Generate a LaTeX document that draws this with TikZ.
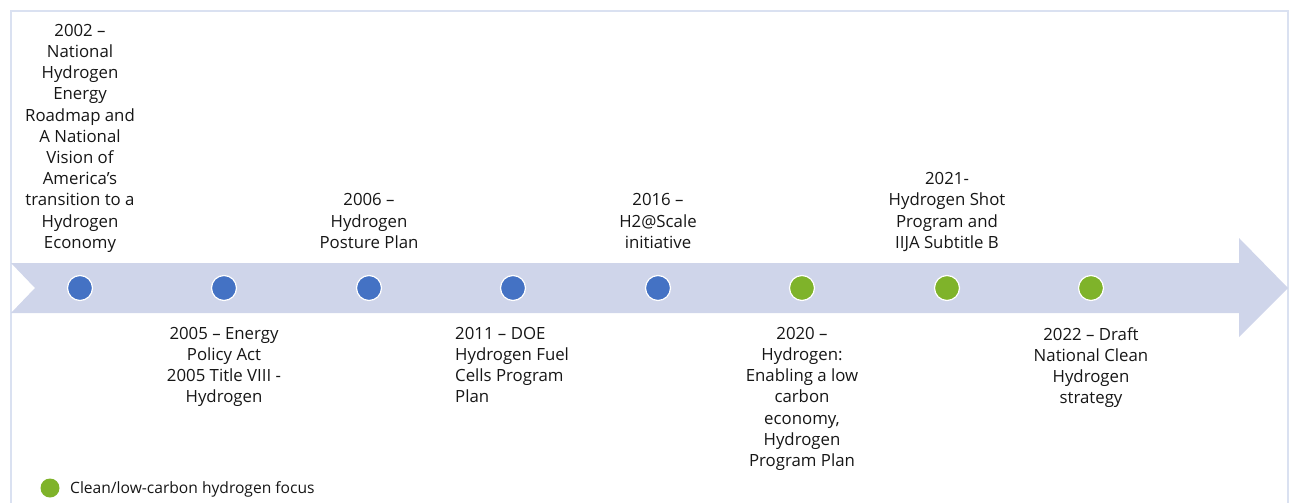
\documentclass[tikz,border=0pt]{standalone}
\usepackage{fontspec}
\setmainfont{Open Sans}

\definecolor{bandfill}{HTML}{CFD5EA}
\definecolor{framecol}{HTML}{DAE1F1}
\definecolor{dotblue}{HTML}{4472C4}
\definecolor{dotgreen}{HTML}{7FB32A}
\definecolor{txt}{HTML}{161616}

\tikzstyle{dot}=[shape=circle,draw=white,line width=1.2pt,inner sep=0pt,minimum size=25pt]
\tikzstyle{desc}=[font=\fontsize{16.8}{21.2}\selectfont,text=txt,inner sep=0pt,align=center]
\tikzstyle{uptext}=[desc,anchor=south,text depth=0pt]
\tikzstyle{downtext}=[desc,anchor=north]
\def\ymid{288}
\def\ytop{248.5}
\def\ybot{327}

\begin{document}
\begin{tikzpicture}[x=1pt,y=-1pt]
\useasboundingbox (0,0) rectangle (1290,503);
% frame
\draw[framecol,line width=2pt] (11,503) -- (11,11) -- (1288,11) -- (1288,503);
% arrow band
\fill[bandfill] (11,263) -- (1239,263) -- (1239,238) -- (1288,\ymid)
    -- (1239,337) -- (1239,313) -- (11,313) -- (35,\ymid) -- cycle;

% milestones
\node[dot,fill=dotblue] (d2002) at (80,\ymid) {};
\node[dot,fill=dotblue] (d2005) at (224,\ymid) {};
\node[dot,fill=dotblue] (d2006) at (369,\ymid) {};
\node[dot,fill=dotblue] (d2011) at (513,\ymid) {};
\node[dot,fill=dotblue] (d2016) at (658,\ymid) {};
\node[dot,fill=dotgreen] (d2020) at (802,\ymid) {};
\node[dot,fill=dotgreen] (d2021) at (947,\ymid) {};
\node[dot,fill=dotgreen] (d2022) at (1091,\ymid) {};

% above the arrow
\node[uptext] (t2002) at (80,\ytop) {2002 –\\National\\Hydrogen\\Energy\\Roadmap and\\A National\\Vision of\\America’s\\transition to a\\Hydrogen\\Economy};
\node[uptext] (t2006) at (369,\ytop) {2006 –\\Hydrogen\\Posture Plan};
\node[uptext] (t2016) at (658,\ytop) {2016 –\\H2@Scale\\initiative};
\node[uptext] (t2021) at (947,\ytop) {2021-\\Hydrogen Shot\\Program and\\IIJA Subtitle B};

% below the arrow
\node[downtext] (t2005) at (224,\ybot) {2005 – Energy\\Policy Act\\2005 Title VIII -\\Hydrogen};
\node[downtext,align=left,anchor=north west] (t2011) at (455,\ybot) {2011 – DOE\\Hydrogen Fuel\\Cells Program\\Plan};
\node[downtext] (t2020) at (802,\ybot) {2020 –\\Hydrogen:\\Enabling a low\\carbon\\economy,\\Hydrogen\\Program Plan};
\node[downtext] (t2022) at (1091,\ybot) {2022 – Draft\\National Clean\\Hydrogen\\strategy};

% legend
\node[dot,fill=dotgreen,draw=none,minimum size=19pt] (key) at (50,488) {};
\node[desc,font=\fontsize{15.6}{18}\selectfont,anchor=west] (keytext) at (70,489) {Clean/low-carbon hydrogen focus};
\end{tikzpicture}
\end{document}
